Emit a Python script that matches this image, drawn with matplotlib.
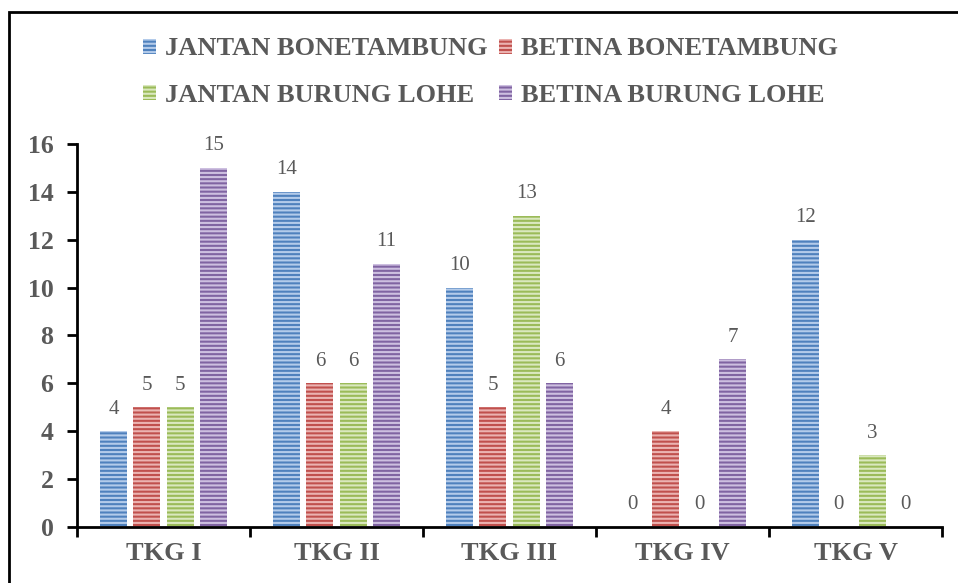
import matplotlib
matplotlib.use("Agg")
import matplotlib.pyplot as plt
from matplotlib.patches import Rectangle
import numpy as np

categories = ["TKG I", "TKG II", "TKG III", "TKG IV", "TKG V"]
series_names = ["JANTAN BONETAMBUNG", "BETINA BONETAMBUNG", "JANTAN BURUNG LOHE", "BETINA BURUNG LOHE"]
jantan_bonetambung = [4, 14, 10, 0, 12]
betina_bonetambung = [5, 6, 5, 4, 0]
jantan_burung_lohe = [5, 6, 13, 0, 3]
betina_burung_lohe = [15, 11, 6, 7, 0]
series_values = [jantan_bonetambung, betina_bonetambung, jantan_burung_lohe, betina_burung_lohe]
colors = ["#4F81BD", "#C0504D", "#9BBB59", "#8064A2"]
stripe_colors = ["#B3CBEA", "#EBB3B1", "#DAE8BF", "#CDBFE0"]
yticks = [0, 2, 4, 6, 8, 10, 12, 14, 16]

plt.rcParams['font.family'] = ['Liberation Serif', 'DejaVu Serif']
plt.rcParams['hatch.linewidth'] = 1.5
grey = "#595959"

fig = plt.figure(figsize=(9.58, 5.83), dpi=100)
ax = fig.add_axes([0.0804, 0.0961, 0.9833 - 0.0804, 0.657])

x = np.arange(len(categories))
width = 0.157
step = 0.193
handles = []
for i, (vals, c, sc) in enumerate(zip(series_values, colors, stripe_colors)):
    pos = x + (i - 1.5) * step
    bars = ax.bar(pos, vals, width, color=c, edgecolor=sc, linewidth=0,
                  hatch='----', label=series_names[i])
    handles.append(bars)
    for p, v in zip(pos, vals):
        ax.annotate(str(v), (p, v), xytext=(0, 9), textcoords='offset points',
                    ha='center', va='bottom', fontsize=15, color=grey)

ax.set_xlim(-0.5, 4.5)
ax.set_ylim(0, 16)
ax.set_yticks(yticks)
ax.set_yticklabels([str(t) for t in yticks], fontsize=18.5, fontweight='bold', color=grey)
ax.set_xticks(np.arange(-0.5, 5.0, 1.0))
ax.set_xticklabels([])
ax.set_xticks(x, minor=True)
ax.set_xticklabels(categories, minor=True, fontsize=19, fontweight='bold', color=grey)
ax.tick_params(axis='x', which='minor', length=0, pad=11)
ax.tick_params(axis='x', which='major', length=7, width=2, direction='out', color='black')
ax.tick_params(axis='y', length=7, width=2, direction='out', pad=10, color='black')
for s in ['top', 'right']:
    ax.spines[s].set_visible(False)
for s in ['left', 'bottom']:
    ax.spines[s].set_linewidth(2)
    ax.spines[s].set_color('black')

order = [0, 2, 1, 3]
leg = fig.legend([handles[i] for i in order], [series_names[i] for i in order],
                 ncol=2, loc='center', bbox_to_anchor=(0.512, 0.876), frameon=False,
                 prop={'family': 'Liberation Serif', 'weight': 'bold', 'size': 19},
                 handlelength=0.5, handleheight=0.5, handletextpad=0.35,
                 columnspacing=0.4, labelspacing=0.9)
for t in leg.get_texts():
    t.set_color(grey)

fig.patches.append(Rectangle((9 / 958, -0.05), 1.1, 0.979 + 0.05, transform=fig.transFigure,
                             fill=False, edgecolor='black', linewidth=2, zorder=0))

fig.savefig("out.png", dpi=100)
